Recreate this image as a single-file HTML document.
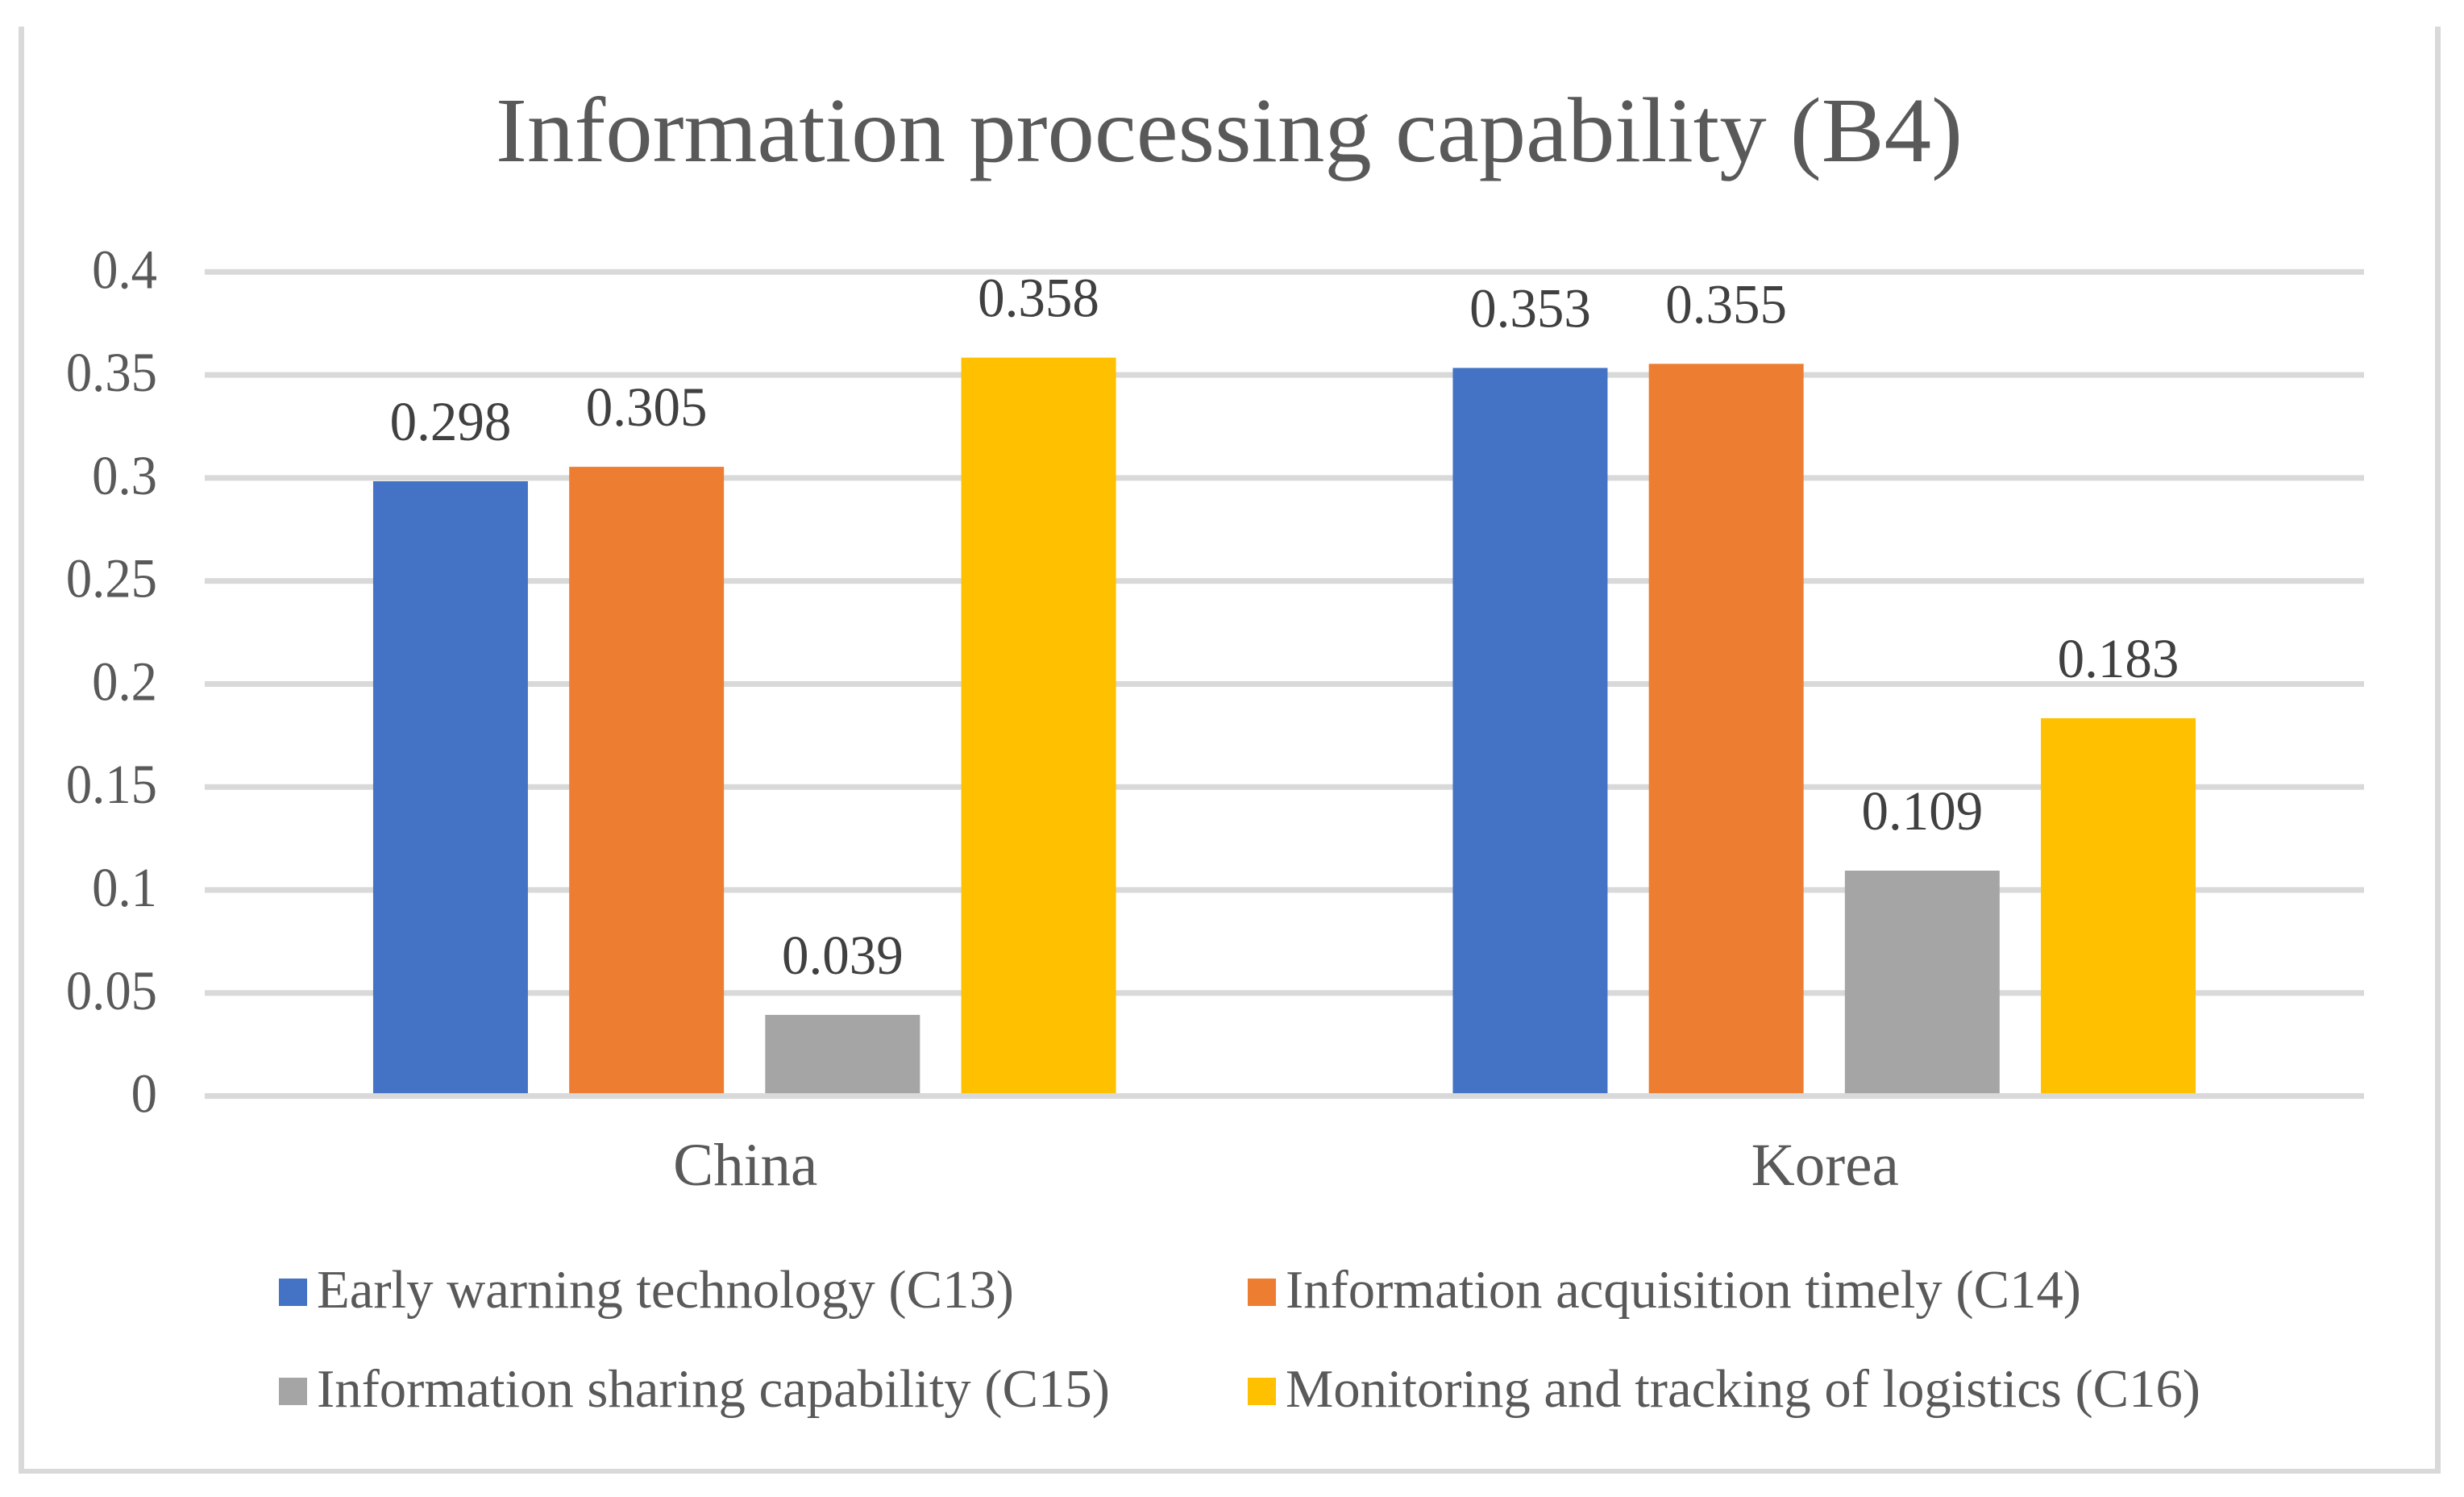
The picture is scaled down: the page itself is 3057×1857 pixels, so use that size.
<!DOCTYPE html>
<html lang="en">
<head>
<meta charset="utf-8">
<title>Information processing capability (B4)</title>
<style>
html,body{margin:0;padding:0;background:#fff;width:3057px;height:1857px;overflow:hidden}
svg{display:block}
text{font-family:"Liberation Serif","Times New Roman",serif}
</style>
</head>
<body>
<svg id="chart" xmlns="http://www.w3.org/2000/svg" width="3057" height="1857" viewBox="0 0 3057 1857">
  <rect x="0" y="0" width="3057" height="1857" fill="#ffffff"/>
  <g fill="#d9d9d9">
    <rect x="23" y="33" width="7" height="1795"/>
    <rect x="3021" y="33" width="7" height="1795"/>
    <rect x="23" y="1822" width="3005" height="6"/>
  </g>
  <text x="615" y="200" font-size="114" fill="#595959" textLength="1820" lengthAdjust="spacingAndGlyphs">Information processing capability (B4)</text>
  <g id="grid"></g>
  <g id="yticks"></g>
  <g id="bars"></g>
  <g id="axis"></g>
  <g id="values"></g>
  <g id="cats"></g>
  <g font-size="67" fill="#595959">
    <g>
      <rect x="346" y="1586" width="35" height="34" fill="#4472c4"/>
      <text x="393" y="1622" textLength="865" lengthAdjust="spacingAndGlyphs">Early warning technology (C13)</text>
    </g>
    <g>
      <rect x="1548" y="1586" width="35" height="34" fill="#ed7d31"/>
      <text x="1595" y="1622" textLength="987" lengthAdjust="spacingAndGlyphs">Information acquisition timely (C14)</text>
    </g>
    <g>
      <rect x="346" y="1709" width="35" height="34" fill="#a5a5a5"/>
      <text x="393" y="1745" textLength="984" lengthAdjust="spacingAndGlyphs">Information sharing capability (C15)</text>
    </g>
    <g>
      <rect x="1548" y="1709" width="35" height="34" fill="#ffc000"/>
      <text x="1595" y="1745" textLength="1135" lengthAdjust="spacingAndGlyphs">Monitoring and tracking of logistics (C16)</text>
    </g>
  </g>
</svg>
<script>
var categories = ['China', 'Korea'];
var seriesC13 = [0.298, 0.353];
var seriesC14 = [0.305, 0.355];
var seriesC15 = [0.039, 0.109];
var seriesC16 = [0.358, 0.183];
var tickValues = [0, 0.05, 0.1, 0.15, 0.2, 0.25, 0.3, 0.35, 0.4];
var tickLabels = ['0', '0.05', '0.1', '0.15', '0.2', '0.25', '0.3', '0.35', '0.4'];

var allSeries = [seriesC13, seriesC14, seriesC15, seriesC16];
var seriesColors = ['#4472c4', '#ed7d31', '#a5a5a5', '#ffc000'];
var seriesKeys = ['c13', 'c14', 'c15', 'c16'];

var NS = 'http://www.w3.org/2000/svg';
var plotLeft = 254, plotRight = 2933, yZero = 1359.6, yTop = 337.3, yMax = 0.4;
var barW = 192, barGap = 51.2, lineH = 7, barLift = 1;

function yScale(v) { return yZero - (v / yMax) * (yZero - yTop); }
function catCenter(i) { return plotLeft + (plotRight - plotLeft) * (i + 0.5) / categories.length; }
function barLeft(c, s) {
  var n = allSeries.length;
  var total = n * barW + (n - 1) * barGap;
  return catCenter(c) - total / 2 + s * (barW + barGap);
}
function make(tag, attrs, parent, txt) {
  var el = document.createElementNS(NS, tag);
  for (var k in attrs) el.setAttribute(k, attrs[k]);
  if (txt !== undefined) el.textContent = txt;
  document.getElementById(parent).appendChild(el);
  return el;
}

tickValues.forEach(function (v, i) {
  var y = yScale(v);
  if (v !== 0) {
    var line = make('rect', { x: plotLeft, y: y - lineH / 2, width: plotRight - plotLeft, height: lineH, fill: '#d9d9d9' }, 'grid');
    
    
  }
  var label = make('text', { 'text-anchor': 'end', 'font-size': 69, fill: '#595959', transform: 'translate(195,' + (y + 20) + ') scale(0.937,1)' }, 'yticks', tickLabels[i]);
  
  
});

allSeries.forEach(function (values, s) {
  values.forEach(function (v, c) {
    var x = barLeft(c, s);
    var top = yScale(v) - barLift;
    var bar = make('rect', { x: x, y: top, width: barW, height: yZero - top, fill: seriesColors[s] }, 'bars');
    
    

    var val = make('text', { 'text-anchor': 'middle', 'font-size': 69, fill: '#404040', transform: 'translate(' + (x + barW / 2) + ',' + (top - 51) + ') scale(0.971,1)' }, 'values', String(v));
    
    
  });
});

var axisLine = make('rect', { x: plotLeft, y: yZero - lineH / 2, width: plotRight - plotLeft, height: lineH, fill: '#d9d9d9' }, 'axis');



categories.forEach(function (name, c) {
  var t = make('text', { x: catCenter(c) + 1, y: 1470, 'text-anchor': 'middle', 'font-size': 75, fill: '#595959' }, 'cats', name);
  
  
});
</script>
</body>
</html>
